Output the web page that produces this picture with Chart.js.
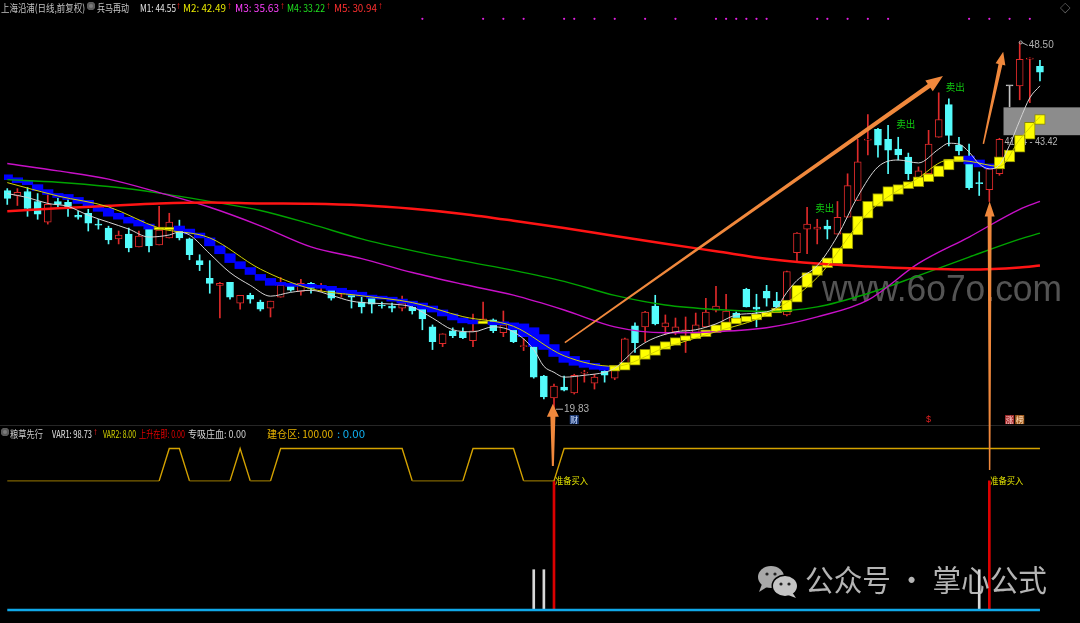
<!DOCTYPE html>
<html lang="zh">
<head>
<meta charset="UTF-8">
<title>兵马再动</title>
<script src="https://cdn.jsdelivr.net/npm/chart.js"></script>
<style>
  body { margin: 0; background: #000; }
  #wrap { position: relative; width: 1080px; height: 623px; overflow: hidden; background: #000; }
  canvas { position: absolute; left: 0; top: 0; }
  .lbl {
    position: absolute; white-space: nowrap; line-height: 13px;
    font: 10.5px "Noto Sans CJK SC", sans-serif;
    transform-origin: 0 50%;
  }
  .arr { font-family: "Liberation Sans", sans-serif; font-size: 10px; }
  .ico { position: absolute; width: 8px; height: 8px; border-radius: 50%; background: #7c7c7c; box-shadow: inset 0 0 0 2px #5a5a5a; }
</style>
</head>
<body>
<div id="wrap">
  <canvas id="chart" width="1080" height="623"></canvas>
</div>

<script>
// daily candles, oldest first (103 bars)
const opens = [
  36.90, 36.52, 36.83, 36.05, 34.43, 36.05, 35.98, 34.97, 35.13, 34.28,
  33.97, 33.12, 33.50, 32.50, 33.97, 32.65, 33.19, 33.97, 33.12, 31.42,
  30.03, 29.49, 29.72, 28.09, 28.71, 28.17, 27.71, 28.56, 29.41, 29.02,
  29.64, 29.33, 29.25, 28.79, 28.87, 28.17, 28.56, 27.94, 27.87, 27.71,
  27.79, 27.79, 26.24, 24.93, 25.93, 25.85, 25.16, 26.55, 26.78, 25.78,
  26.24, 24.69, 24.69, 22.38, 20.67, 21.53, 21.06, 22.61, 21.83, 22.76,
  22.22, 22.99, 26.32, 26.24, 27.86, 26.24, 25.85, 25.93, 25.78, 26.24,
  27.55, 26.55, 27.32, 29.18, 27.79, 29.02, 28.25, 27.17, 32.04, 33.89,
  33.89, 34.12, 33.50, 34.82, 36.13, 40.85, 41.70, 40.92, 40.15, 39.53,
  37.60, 38.22, 41.08, 43.63, 40.46, 39.30, 37.53, 36.98, 38.22, 45.10,
  45.10, 47.20, 46.64
];
const highs = [
  37.06, 37.06, 37.14, 36.67, 36.60, 36.29, 36.29, 35.28, 35.44, 34.66,
  34.12, 33.74, 33.97, 33.74, 34.20, 35.67, 35.13, 34.59, 33.19, 31.88,
  31.42, 29.72, 29.72, 28.71, 28.87, 28.33, 28.25, 30.10, 29.64, 29.95,
  29.72, 29.64, 29.30, 28.94, 28.94, 28.56, 28.64, 28.17, 28.09, 28.64,
  27.94, 27.85, 26.39, 25.70, 26.16, 26.16, 27.24, 28.17, 26.86, 27.48,
  26.32, 25.31, 24.77, 22.45, 21.75, 22.38, 22.53, 22.84, 22.53, 22.99,
  23.15, 25.35, 26.55, 27.45, 28.71, 27.17, 26.93, 27.01, 27.32, 28.48,
  29.41, 28.79, 27.40, 29.26, 28.79, 29.49, 28.94, 30.60, 33.62, 35.59,
  34.66, 34.59, 36.05, 38.22, 40.92, 42.86, 41.77, 42.01, 41.08, 39.84,
  38.76, 41.62, 44.56, 44.09, 41.08, 40.54, 38.37, 38.61, 41.00, 45.10,
  48.50, 47.30, 47.10
];
const lows = [
  35.82, 35.74, 34.89, 34.66, 34.28, 35.51, 34.89, 34.66, 33.74, 33.89,
  32.73, 32.73, 32.11, 32.50, 32.11, 32.65, 33.19, 33.04, 31.49, 30.64,
  28.87, 26.93, 28.40, 27.63, 28.09, 27.48, 27.01, 28.56, 29.02, 28.71,
  28.87, 29.02, 28.33, 28.56, 27.71, 27.32, 27.32, 27.71, 27.40, 27.48,
  27.24, 26.01, 24.46, 24.69, 25.39, 25.31, 24.69, 26.55, 25.78, 25.47,
  25.00, 24.38, 22.22, 20.60, 19.83, 21.22, 20.98, 21.91, 21.37, 21.91,
  22.10, 22.91, 24.23, 25.08, 26.39, 25.62, 25.62, 24.23, 25.78, 26.24,
  27.40, 26.55, 26.55, 27.79, 26.24, 27.86, 27.72, 27.09, 31.26, 31.96,
  32.73, 33.12, 33.50, 34.82, 36.13, 39.69, 39.53, 38.22, 39.30, 37.76,
  37.60, 38.14, 41.08, 40.40, 39.69, 37.00, 36.52, 36.05, 38.10, 43.47,
  44.01, 43.78, 45.48
];
const closes = [
  36.29, 36.77, 35.51, 35.05, 35.82, 35.82, 35.51, 34.82, 34.35, 34.20,
  33.04, 33.43, 32.42, 33.35, 32.58, 33.81, 34.43, 33.19, 31.88, 31.11,
  29.64, 29.64, 28.56, 28.71, 28.40, 27.63, 28.25, 29.49, 29.10, 29.64,
  29.25, 29.41, 28.48, 28.87, 28.56, 27.79, 28.02, 27.87, 27.71, 28.09,
  27.48, 26.86, 25.08, 25.70, 25.54, 25.39, 25.93, 26.86, 25.93, 26.39,
  25.08, 24.77, 22.30, 20.75, 21.60, 21.29, 22.45, 22.68, 22.30, 22.45,
  23.07, 25.31, 25.00, 27.40, 26.47, 26.55, 26.24, 26.01, 26.39, 27.40,
  27.86, 27.48, 26.63, 27.79, 27.63, 28.48, 27.79, 30.57, 33.58, 34.28,
  34.05, 33.89, 34.82, 37.29, 39.15, 40.92, 40.46, 40.07, 39.69, 38.22,
  38.45, 40.54, 42.47, 41.23, 40.00, 37.14, 37.45, 38.61, 40.92, 45.10,
  47.18, 47.26, 46.18
];

// step ribbon (one block per bar), B = blue, Y = yellow
const bandHi = [
  38.14, 37.91, 37.68, 37.37, 36.98, 36.68, 36.60, 36.37, 36.14, 35.75,
  35.52, 35.13, 34.82, 34.59, 34.28, 34.05, 34.05, 34.13, 33.89, 33.58,
  33.20, 32.58, 31.96, 31.34, 30.88, 30.34, 30.03, 29.72, 29.64, 29.57,
  29.57, 29.49, 29.41, 29.26, 29.10, 28.95, 28.72, 28.64, 28.56, 28.41,
  28.25, 28.10, 27.87, 27.56, 27.25, 26.94, 26.78, 26.71, 26.63, 26.63,
  26.55, 26.47, 26.17, 25.63, 24.85, 24.31, 23.92, 23.62, 23.38, 23.15,
  23.23, 23.46, 24.00, 24.47, 24.78, 25.08, 25.39, 25.55, 25.78, 26.01,
  26.40, 26.63, 26.94, 27.09, 27.25, 27.40, 27.71, 28.33, 29.49, 30.49,
  31.04, 31.65, 32.43, 33.58, 34.90, 36.06, 36.68, 37.22, 37.37, 37.60,
  37.99, 38.22, 38.84, 39.38, 39.61, 39.61, 39.30, 38.99, 39.54, 40.08,
  41.24, 42.24, 42.86
];
const bandLo = [
  37.76, 37.53, 37.37, 36.91, 36.60, 36.37, 36.21, 35.90, 35.67, 35.28,
  34.90, 34.67, 34.36, 34.13, 33.89, 33.82, 33.82, 33.74, 33.51, 33.20,
  32.58, 31.96, 31.27, 30.80, 30.34, 29.88, 29.49, 29.49, 29.41, 29.41,
  29.33, 29.26, 29.10, 28.87, 28.72, 28.64, 28.48, 28.41, 28.25, 28.10,
  27.87, 27.63, 27.40, 27.09, 26.78, 26.55, 26.47, 26.47, 26.40, 26.40,
  26.01, 25.47, 24.70, 24.47, 23.92, 23.46, 23.23, 23.07, 22.92, 22.84,
  22.77, 22.84, 23.23, 23.69, 24.00, 24.47, 24.78, 25.16, 25.32, 25.47,
  25.78, 25.93, 26.47, 26.63, 26.78, 27.02, 27.32, 27.40, 28.17, 29.33,
  30.26, 30.88, 31.19, 32.35, 33.43, 34.74, 35.67, 36.06, 36.60, 37.06,
  37.22, 37.60, 37.99, 38.53, 39.15, 38.99, 38.76, 38.61, 38.61, 39.15,
  39.92, 40.93, 42.09
];
const bandFlags =
  'BBBBBBBBBBBBBBB' + 'YY' + 'BBBBBBBBBBBBBBBBBBBBBBBBBBBBBB' + 'Y' +
  'BBBBBBBBBBBB' + 'YYYYYYYYYYYYYYYYYYYYYYYYYYYYYYYYYYY' + 'BBB' + 'YYYYY';

// moving average lines at these bars
const maIdx = [0, 5, 10, 15, 20, 25, 30, 35, 40, 45, 50, 55, 60, 65, 70, 75, 80, 85, 90, 95, 100, 102];
const ma3 = [39.02, 38.45, 37.80, 36.75, 35.60, 34.15, 32.50, 31.58, 30.49, 29.57, 28.72, 27.56, 26.24, 25.78, 25.86, 26.17, 27.02, 28.33, 31.20, 33.27, 35.44, 36.06];
const ma4 = [37.76, 37.56, 37.22, 36.71, 36.06, 35.35, 34.28, 33.12, 32.20, 31.40, 30.66, 29.80, 28.70, 27.95, 27.60, 27.45, 27.80, 28.85, 30.25, 31.70, 33.10, 33.58];
const ma5 = [35.28, 35.52, 35.71, 35.90, 35.98, 35.90, 35.87, 35.75, 35.48, 35.08, 34.55, 33.97, 33.35, 32.74, 32.16, 31.57, 31.19, 30.96, 30.80, 30.72, 30.88, 31.04];

const ma2Idx = [0, 5, 10, 15, 20, 25, 30, 35, 40, 45, 50, 55, 60, 65, 70, 75, 80, 85, 90, 93, 95, 98, 100, 102];
const ma2 = [37.53, 36.48, 35.63, 33.97, 33.20, 30.76, 29.22, 28.67, 28.14, 27.04, 26.28, 23.97, 23.15, 24.62, 25.86, 27.20, 30.10, 35.13, 37.90, 39.30, 39.20, 38.80, 40.90, 42.70];

const ma1Idx = [0, 2, 4, 6, 8, 10, 12, 14, 16, 17, 18, 20, 22, 24, 26, 28, 30, 32, 34, 36, 38, 40,
  42, 44, 46, 48, 50, 52, 53, 54, 55, 57, 59, 60, 61, 62, 63, 64, 66, 68, 70, 72, 74, 76, 77, 78,
  80, 82, 84, 86, 88, 90, 92, 93, 94, 95, 96, 97, 98, 99, 100, 101, 102];
const ma1 = [36.67, 36.36, 35.90, 35.67, 34.97, 34.43, 33.89, 33.27, 33.43, 33.66, 33.43, 31.96, 30.49, 29.49, 28.64, 28.94, 29.10, 28.71, 28.25, 28.09, 28.02, 27.79,
  26.93, 26.01, 25.85, 26.24, 25.85, 24.46, 23.15, 22.68, 22.30, 22.45, 22.68, 23.00, 23.69, 24.46, 25.00, 25.39, 25.85, 26.01, 26.47, 27.17, 27.32, 27.79, 28.94, 29.87,
  31.03, 33.35, 36.44, 38.76, 39.30, 39.07, 40.15, 40.61, 40.54, 39.92, 38.99, 38.61, 38.92, 40.46, 42.39, 44.17, 45.10];

// small signal dots along the top
const sigIdx = [41, 47, 49, 51, 55, 56, 58, 60, 63, 66, 70, 71, 72, 73, 74, 75, 80, 81, 83, 85, 87, 95, 97, 99, 101];
const sigLevel = 50.35;

// lower panel: 建仓区 step line and sticks
const buildZone = [
  80, 80, 80, 80, 80, 80, 80, 80, 80, 80, 80, 80, 80, 80, 80, 80,
  100, 100,
  80, 80, 80, 80, 80,
  100,
  80, 80, 80,
  100, 100, 100, 100, 100, 100, 100, 100, 100, 100, 100, 100, 100,
  80, 80, 80, 80, 80, 80,
  100, 100, 100, 100, 100,
  80, 80, 80, 80,
  100, 100, 100, 100, 100, 100, 100, 100, 100, 100, 100, 100,
  100, 100, 100, 100, 100, 100, 100, 100, 100, 100, 100, 100,
  100, 100, 100, 100, 100, 100, 100, 100, 100, 100, 100, 100,
  100, 100, 100, 100, 100, 100, 100, 100, 100, 100, 100, 100
];
const buyIdx = [54, 97];
const buyTop = [80, 80];
const whiteIdx = [52, 53, 96];
const whiteTop = [25, 25, 25];
const baseIdx = [0, 102];
const baseVal = [0, 0];

// annotations
const lowMark = { i: 54, p: 19.83 };
const highMark = { i: 100, p: 48.50 };
const zoneFrom = 98.4, zoneLo = 41.24, zoneHi = 43.42;
const sellMarks = [[79.8, 35.5], [87.8, 42.1], [92.7, 45.0]];
const markerLevel = 18.98;
const arrows = [
  { from: [55.07, 25.01], to: [92.42, 45.87], w0: 1.5, w1: 4.5, hl: 17, hw: 13 },
  { from: [96.41, 40.56], to: [98.37, 47.78], w0: 1.5, w1: 4, hl: 13, hw: 10 },
  { from: [53.89, 15.35], to: [53.89, 20.21], w0: 2, w1: 5, hl: 13, hw: 12 },
  { from: [97.03, 15.04], to: [97.03, 36.06], w0: 1.5, w1: 4, hl: 15, hw: 10 }
];

const PANEL_SPLIT = 425;
const UP = '#de2a2a', DOWN = '#54fcfc', FLAT = '#c4c4c4';

function candleColor(i) {
  if (closes[i] > opens[i]) return UP;
  if (closes[i] < opens[i]) return DOWN;
  return FLAT;
}

function drawArrow(ctx, x0, y0, x1, y1, w0, w1, hl, hw) {
  const dx = x1 - x0, dy = y1 - y0, len = Math.hypot(dx, dy);
  const ux = dx / len, uy = dy / len, nx = -uy, ny = ux;
  const bx = x1 - ux * hl, by = y1 - uy * hl;
  ctx.beginPath();
  ctx.moveTo(x0 + nx * w0 / 2, y0 + ny * w0 / 2);
  ctx.lineTo(bx + nx * w1 / 2, by + ny * w1 / 2);
  ctx.lineTo(bx + nx * hw / 2, by + ny * hw / 2);
  ctx.lineTo(x1, y1);
  ctx.lineTo(bx - nx * hw / 2, by - ny * hw / 2);
  ctx.lineTo(bx - nx * w1 / 2, by - ny * w1 / 2);
  ctx.lineTo(x0 - nx * w0 / 2, y0 - ny * w0 / 2);
  ctx.closePath();
  ctx.fill();
}

const overlay = {
  id: 'overlay',
  beforeDatasetsDraw(chart) {
    const { ctx } = chart;
    const sx = chart.scales.x, sy = chart.scales.y;
    ctx.save();
    ctx.fillStyle = '#262626';
    ctx.fillRect(0, PANEL_SPLIT, chart.width, 1);

    // grey price range box
    const bx = sx.getPixelForValue(zoneFrom);
    const bt = sy.getPixelForValue(zoneHi), bb = sy.getPixelForValue(zoneLo);
    ctx.fillStyle = '#8c8c8c';
    ctx.fillRect(bx, bt, chart.width - bx, bb - bt);
    ctx.font = '10px "Liberation Sans"';
    ctx.fillStyle = '#b4b4b4';
    ctx.textBaseline = 'middle';
    ctx.fillText(zoneLo.toFixed(2) + ' - ' + zoneHi.toFixed(2), bx + 1, bb + 7, 53);

    // site watermark
    ctx.font = '36px "Liberation Sans"';
    ctx.fillStyle = 'rgba(88,88,88,0.95)';
    ctx.textBaseline = 'alphabetic';
    ctx.fillText('www.6o7o.com', 822, 301, 240);
    ctx.restore();
  },
  afterDatasetsDraw(chart) {
    const { ctx } = chart;
    const sx = chart.scales.x, sy = chart.scales.y, s2 = chart.scales.y2;
    ctx.save();

    ctx.fillStyle = '#f0883c';
    arrows.forEach(a => {
      drawArrow(ctx,
        sx.getPixelForValue(a.from[0]), sy.getPixelForValue(a.from[1]),
        sx.getPixelForValue(a.to[0]), sy.getPixelForValue(a.to[1]),
        a.w0, a.w1, a.hl, a.hw);
    });

    // low / high price tags
    ctx.font = '10px "Liberation Sans"';
    ctx.textBaseline = 'middle';
    ctx.strokeStyle = '#b0b0b0';
    ctx.fillStyle = '#b0b0b0';
    ctx.lineWidth = 1;
    let x = sx.getPixelForValue(lowMark.i), y = sy.getPixelForValue(lowMark.p);
    ctx.beginPath(); ctx.moveTo(x + 2, y + 0.5); ctx.lineTo(x + 9, y + 0.5); ctx.stroke();
    ctx.fillText(lowMark.p.toFixed(2), x + 10, y + 1);
    x = sx.getPixelForValue(highMark.i); y = sy.getPixelForValue(highMark.p);
    ctx.beginPath(); ctx.arc(x + 1, y, 1.5, 0, Math.PI * 2); ctx.stroke();
    ctx.beginPath(); ctx.moveTo(x + 2, y); ctx.lineTo(x + 8, y + 3); ctx.stroke();
    ctx.fillText(highMark.p.toFixed(2), x + 9, y + 3);

    // sell tags
    ctx.font = '10px "Noto Sans CJK SC"';
    ctx.fillStyle = '#10c810';
    sellMarks.forEach(m => {
      ctx.fillText('卖出', sx.getPixelForValue(m[0]), sy.getPixelForValue(m[1]), 19);
    });

    // buy tags in lower panel
    ctx.font = '9px "Noto Sans CJK SC"';
    ctx.fillStyle = '#e6e600';
    buyIdx.forEach((i, k) => {
      ctx.fillText('准备买入', sx.getPixelForValue(i) + 1, s2.getPixelForValue(buyTop[k]), 33);
    });

    // event markers under the candles
    const my = sy.getPixelForValue(markerLevel);
    const box = (i, bg, fg, t) => {
      const cx = sx.getPixelForValue(i);
      ctx.fillStyle = bg; ctx.fillRect(cx - 4.5, my - 4.5, 9, 9);
      ctx.fillStyle = fg; ctx.font = '8px "Noto Sans CJK SC"';
      ctx.textAlign = 'center'; ctx.fillText(t, cx, my + 0.5); ctx.textAlign = 'left';
    };
    box(56, '#1e3c78', '#d0e0ff', '财');
    box(99, '#a83030', '#ffd0d0', '涨');
    box(100, '#a86020', '#ffe0c0', '榜');
    ctx.fillStyle = '#e02020';
    ctx.font = '9px "Liberation Sans"';
    ctx.textAlign = 'center';
    ctx.fillText('$', sx.getPixelForValue(91), my);
    ctx.textAlign = 'left';

    // account watermark with chat icon
    ctx.fillStyle = '#a8a8a8';
    ctx.beginPath(); ctx.ellipse(771, 577, 13, 11, 0, 0, Math.PI * 2); ctx.fill();
    ctx.beginPath(); ctx.moveTo(762, 584); ctx.lineTo(759, 592); ctx.lineTo(767, 587); ctx.fill();
    ctx.fillStyle = '#000';
    ctx.beginPath(); ctx.ellipse(785, 586, 13.5, 11.5, 0, 0, Math.PI * 2); ctx.fill();
    ctx.fillStyle = '#c4c4c4';
    ctx.beginPath(); ctx.ellipse(785, 586, 12, 10, 0, 0, Math.PI * 2); ctx.fill();
    ctx.beginPath(); ctx.moveTo(792, 592); ctx.lineTo(796, 598); ctx.lineTo(788, 595); ctx.fill();
    ctx.fillStyle = '#222';
    [[767, 574], [775, 574], [781, 584], [789, 584]].forEach(p => {
      ctx.beginPath(); ctx.arc(p[0], p[1], 1.6, 0, Math.PI * 2); ctx.fill();
    });
    ctx.font = '30px "Noto Sans CJK SC"';
    ctx.fillStyle = 'rgba(200,200,200,0.9)';
    ctx.textBaseline = 'middle';
    ctx.fillText('公众号 · 掌心公式', 805, 580, 242);
    ctx.restore();
  }
};

const pts = (idx, vals) => idx.map((i, k) => ({ x: i, y: vals[k] }));
const allIdx = opens.map((_, i) => i);

new Chart(document.getElementById('chart'), {
  type: 'bar',
  data: {
    datasets: [
      {
        label: 'wick', order: 12, grouped: false, barThickness: 1, borderWidth: 0,
        data: allIdx.map(i => ({ x: i, y: [lows[i], highs[i]] })),
        backgroundColor: c => candleColor(c.dataIndex)
      },
      {
        label: 'body', order: 11, grouped: false, barThickness: 7, minBarLength: 1,
        borderWidth: 1, borderSkipped: false,
        data: allIdx.map(i => ({ x: i, y: [opens[i], closes[i]] })),
        backgroundColor: c => candleColor(c.dataIndex) === UP ? '#000' : candleColor(c.dataIndex),
        borderColor: c => candleColor(c.dataIndex)
      },
      {
        label: 'band', order: 10, grouped: false, barThickness: 10.5, borderSkipped: false,
        data: allIdx.map(i => ({ x: i, y: [bandLo[i], bandHi[i]] })),
        backgroundColor: c => bandFlags[c.dataIndex] === 'Y' ? '#ffff00' : '#0000ff',
        borderColor: c => bandFlags[c.dataIndex] === 'Y' ? '#8a8a00' : '#0000ff',
        borderWidth: c => bandFlags[c.dataIndex] === 'Y' ? 1 : 0
      },
      {
        type: 'line', label: 'M3', order: 9, data: pts(maIdx, ma3),
        borderColor: '#c810c8', borderWidth: 1.4, pointRadius: 0, cubicInterpolationMode: 'monotone'
      },
      {
        type: 'line', label: 'M4', order: 9, data: pts(maIdx, ma4),
        borderColor: '#00a400', borderWidth: 1.4, pointRadius: 0, cubicInterpolationMode: 'monotone'
      },
      {
        type: 'line', label: 'M5', order: 8, data: pts(maIdx, ma5),
        borderColor: '#ff1414', borderWidth: 2.5, pointRadius: 0, cubicInterpolationMode: 'monotone'
      },
      {
        type: 'line', label: 'M2', order: 7, data: pts(ma2Idx, ma2),
        borderColor: '#d2d200', borderWidth: 1, pointRadius: 0, cubicInterpolationMode: 'monotone'
      },
      {
        type: 'line', label: 'M1', order: 6, data: pts(ma1Idx, ma1),
        borderColor: '#d4d4d4', borderWidth: 1, pointRadius: 0, cubicInterpolationMode: 'monotone'
      },
      {
        type: 'line', label: 'sig', order: 5, showLine: false,
        data: sigIdx.map(i => ({ x: i, y: sigLevel })),
        pointRadius: 1.1, pointBackgroundColor: '#e020e0', pointBorderWidth: 0
      },
      {
        type: 'line', label: '建仓区', order: 4, yAxisID: 'y2', data: pts(allIdx, buildZone),
        borderWidth: 1.4, pointRadius: 0, tension: 0, borderColor: '#d4a200',
        segment: {
          borderColor: s => (s.p0.parsed.y < 90 && s.p1.parsed.y < 90) ? '#7c6200' : '#d4a200'
        }
      },
      {
        label: 'buy', order: 4, yAxisID: 'y2', grouped: false, barThickness: 2, borderWidth: 0,
        data: buyIdx.map((i, k) => ({ x: i, y: [0, buyTop[k]] })), backgroundColor: '#dc0000'
      },
      {
        label: 'white', order: 4, yAxisID: 'y2', grouped: false, barThickness: 2, borderWidth: 0,
        data: whiteIdx.map((i, k) => ({ x: i, y: [0, whiteTop[k]] })), backgroundColor: '#d8d8d8'
      },
      {
        type: 'line', label: 'base', order: 3, yAxisID: 'y2', data: pts(baseIdx, baseVal),
        borderColor: '#10a8e8', borderWidth: 2.5, pointRadius: 0
      }
    ]
  },
  options: {
    responsive: false,
    animation: false,
    devicePixelRatio: 1,
    events: [],
    layout: { padding: 0 },
    plugins: { legend: { display: false }, tooltip: { enabled: false } },
    scales: {
      x: { type: 'linear', min: -0.3235, max: 105.56, offset: false, display: false },
      y: { min: 3.37, max: 51.51, display: false },
      y2: { min: -5.5, max: 375.08, display: false }
    }
  },
  plugins: [overlay]
});

// header rows
const wrap = document.getElementById('wrap');
const headerTop = [
  { t: '上海沿浦(日线,前复权)', c: '#c0c0c0', x: 1, w: 84 },
  { t: '兵马再动', c: '#c8c8c8', x: 97, w: 32 },
  { t: 'M1: 44.55', c: '#e6e6e6', x: 140, w: 36 },
  { t: '↑', c: '#ff2020', x: 176, arrow: true },
  { t: 'M2: 42.49', c: '#e6e600', x: 183, w: 43 },
  { t: '↑', c: '#ff2020', x: 227, arrow: true },
  { t: 'M3: 35.63', c: '#ff40ff', x: 235, w: 44 },
  { t: '↑', c: '#ff2020', x: 280, arrow: true },
  { t: 'M4: 33.22', c: '#20e020', x: 287, w: 38 },
  { t: '↑', c: '#ff2020', x: 326, arrow: true },
  { t: 'M5: 30.94', c: '#ff3030', x: 334, w: 43 },
  { t: '↑', c: '#ff2020', x: 378, arrow: true },
  { t: '◇', c: '#8a8a8a', x: 1060 }
];
const headerLow = [
  { t: '粮草先行', c: '#c8c8c8', x: 10, w: 33 },
  { t: 'VAR1: 98.73', c: '#e6e6e6', x: 52, w: 40 },
  { t: '↑', c: '#ff2020', x: 93, arrow: true },
  { t: 'VAR2: 8.00', c: '#d4d400', x: 103, w: 33 },
  { t: '上升在即: 0.00', c: '#e00000', x: 139, w: 46 },
  { t: '专吸庄血: 0.00', c: '#d0d0d0', x: 188, w: 58 },
  { t: '建仓区: 100.00', c: '#e8b400', x: 267, w: 66 },
  { t: ': 0.00', c: '#10b0f0', x: 337, w: 28 }
];

function addRow(items, top) {
  items.forEach(it => {
    const s = document.createElement('span');
    s.className = it.arrow ? 'lbl arr' : 'lbl';
    s.textContent = it.t;
    s.style.color = it.c;
    s.style.left = it.x + 'px';
    s.style.top = top + 'px';
    wrap.appendChild(s);
    if (it.w) {
      const w = s.getBoundingClientRect().width;
      s.style.transform = 'scaleX(' + (it.w / w).toFixed(3) + ')';
    }
  });
}
addRow(headerTop, 0);
addRow(headerLow, 426);

[[87, 2], [1, 428]].forEach(p => {
  const d = document.createElement('div');
  d.className = 'ico';
  d.style.left = p[0] + 'px';
  d.style.top = p[1] + 'px';
  wrap.appendChild(d);
});
</script>
</body>
</html>
